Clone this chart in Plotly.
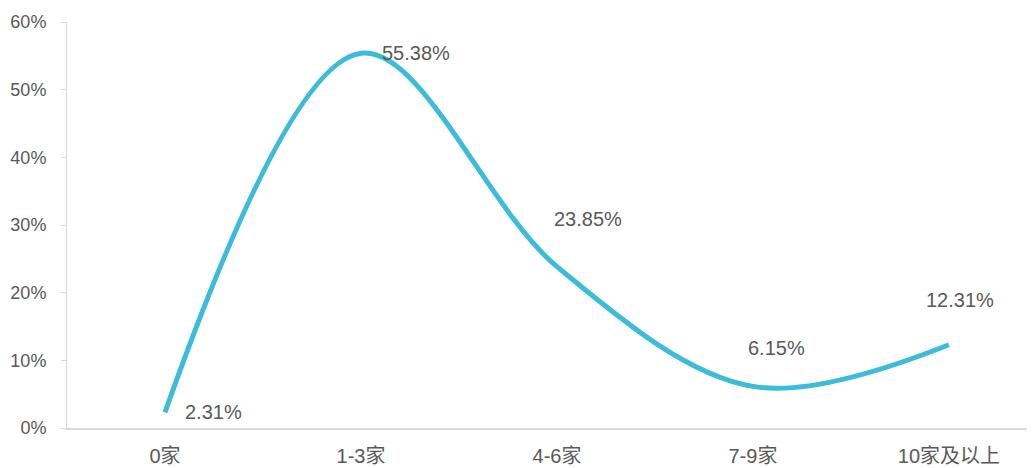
import plotly.graph_objects as go

categories = ["0家", "1-3家", "4-6家", "7-9家", "10家及以上"]
values = [2.31, 55.38, 23.85, 6.15, 12.31]
labels = ["2.31%", "55.38%", "23.85%", "6.15%", "12.31%"]
label_shift = [(49, 0), (55, 0), (31, 48), (24, 38), (11, 45)]

FONT = "Liberation Sans, Noto Sans CJK SC, sans-serif"
GREY = "#595959"

fig = go.Figure()
fig.add_trace(go.Scatter(
    x=list(range(len(categories))), y=values, mode="lines",
    line=dict(color="#3BBCDB", width=5, shape="spline", smoothing=1.0),
    hoverinfo="skip"))

for i, (v, t) in enumerate(zip(values, labels)):
    dx, dy = label_shift[i]
    fig.add_annotation(x=i, y=v, text=t, showarrow=False,
                       xshift=dx, yshift=dy,
                       font=dict(family=FONT, size=20, color=GREY))

# page body has an 8px default margin; compensate in the figure margins
fig.update_layout(
    width=1035, height=468,
    margin=dict(l=59, r=0, t=14, b=48),
    paper_bgcolor="white", plot_bgcolor="white",
    showlegend=False,
    font=dict(family=FONT, color=GREY, size=20),
)
fig.update_xaxes(
    range=[-0.5, 4.48], tickmode="array",
    tickvals=list(range(len(categories))), ticktext=categories,
    showgrid=False, zeroline=False, showline=True,
    linecolor="#D9D9D9", linewidth=2, ticks="", automargin=False,
    ticklabelstandoff=9,
    tickfont=dict(family=FONT, size=20, color=GREY),
)
fig.update_yaxes(
    range=[0, 60], tickmode="array", tickvals=[0, 10, 20, 30, 40, 50, 60],
    ticktext=["0%", "10%", "20%", "30%", "40%", "50%", "60%"],
    showgrid=False, zeroline=False, showline=True,
    linecolor="#D9D9D9", linewidth=1, ticks="outside", ticklen=5,
    tickcolor="#D9D9D9", ticklabelstandoff=11, automargin=False,
    tickfont=dict(family=FONT, size=18, color=GREY),
)

fig.write_html("out.html")
